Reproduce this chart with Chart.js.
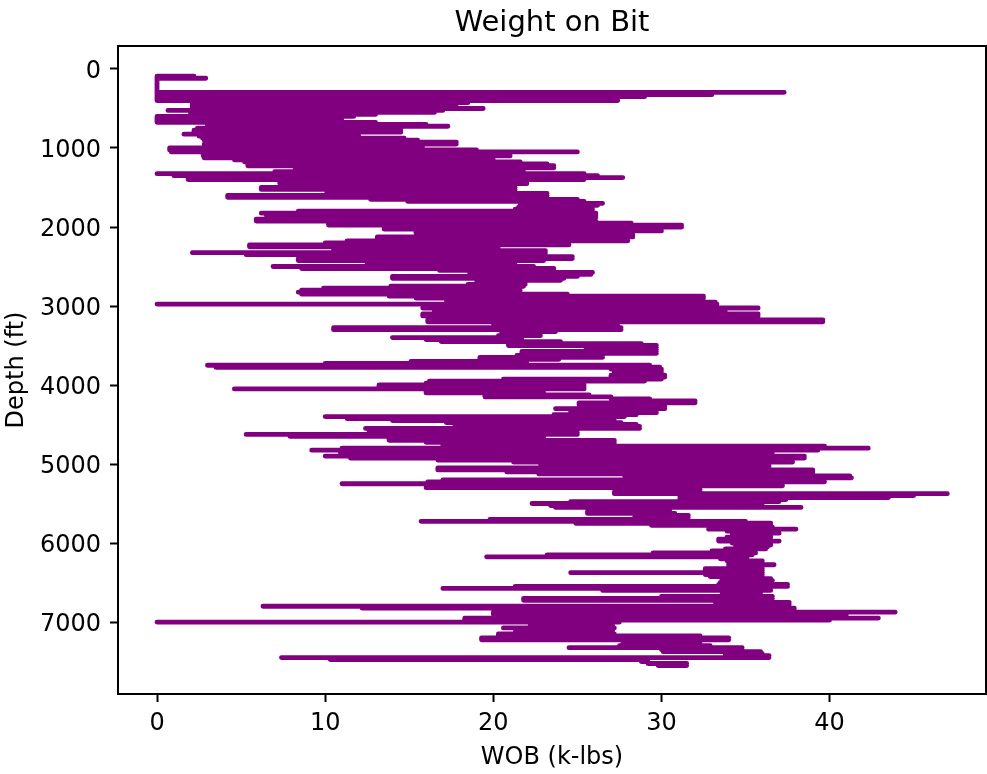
<!DOCTYPE html>
<html>
<head>
<meta charset="utf-8">
<title>Weight on Bit</title>
<script src="https://cdn.jsdelivr.net/npm/chart.js@4.4.0/dist/chart.umd.js"></script>
<style>
    html, body { margin: 0; padding: 0; background: #fff; overflow: hidden; }
    canvas { display: block; }
</style>
</head>
<body>
<canvas id="wob-chart" width="987" height="774"></canvas>
<script>
// values, one row per depth sample
const depthFt = [
    92, 117,
    295, 325, 350, 375, 400, 425, 450, 475, 500, 525,
    550, 575, 600, 625, 650, 675, 700, 725, 750, 775,
    800, 825, 850, 875, 900, 925, 950, 975, 1000, 1025,
    1050, 1075, 1100, 1125, 1150, 1175, 1200, 1225, 1250, 1275,
    1300, 1325, 1350, 1375, 1400, 1425, 1450, 1475, 1500, 1525,
    1550, 1575, 1600, 1625, 1650, 1675, 1700, 1725, 1750, 1775,
    1800, 1825, 1850, 1875, 1900, 1925, 1950, 1975, 2000, 2025,
    2050, 2075, 2100, 2125, 2150, 2175, 2200, 2225, 2250, 2275,
    2300, 2325, 2350, 2375, 2400, 2425, 2450, 2475, 2500, 2525,
    2550, 2575, 2600, 2625, 2650, 2675, 2700, 2725, 2750, 2775,
    2800, 2825, 2850, 2875, 2900, 2925, 2950, 2975, 3000, 3025,
    3050, 3075, 3100, 3125, 3150, 3175, 3200, 3225, 3250, 3275,
    3300, 3325, 3350, 3375, 3400, 3425, 3450, 3475, 3500, 3525,
    3550, 3575, 3600, 3625, 3650, 3675, 3700, 3725, 3750, 3775,
    3800, 3825, 3850, 3875, 3900, 3925, 3950, 3975, 4000, 4025,
    4050, 4075, 4100, 4125, 4150, 4175, 4200, 4225, 4250, 4275,
    4300, 4325, 4350, 4375, 4400, 4425, 4450, 4475, 4500, 4525,
    4550, 4575, 4600, 4625, 4650, 4675, 4700, 4725, 4750, 4775,
    4800, 4825, 4850, 4875, 4900, 4925, 4950, 4975, 5000, 5025,
    5050, 5075, 5100, 5125, 5150, 5175, 5200, 5225, 5250, 5275,
    5300, 5325, 5350, 5375, 5400, 5425, 5450, 5475, 5500, 5525,
    5550, 5575, 5600, 5625, 5650, 5675, 5700, 5725, 5750, 5775,
    5800, 5825, 5850, 5875, 5900, 5925, 5950, 5975, 6000, 6025,
    6050, 6075, 6100, 6125, 6150, 6175, 6200, 6225, 6250, 6275,
    6300, 6325, 6350, 6375, 6400, 6425, 6450, 6475, 6500, 6525,
    6550, 6575, 6600, 6625, 6650, 6675, 6700, 6725, 6750, 6775,
    6800, 6825, 6850, 6875, 6900, 6925, 6950, 6975, 7000, 7025,
    7050, 7075, 7100, 7125, 7150, 7175, 7200, 7225, 7250, 7275,
    7300, 7325, 7350, 7375, 7400, 7425, 7450, 7475, 7500, 7525,
    7550
];

// lowest WOB swing at each depth
const wobLow = [
    0, 0,
    0, 0, 0, 0, 0, 2.1, 2.1, 2.1, 2.1, 0.65,
    2, 2, 0, 0, 0, 0, 3, 3, 2.4, 2.2,
    2.2, 1.6, 2.5, 2.7, 2.8, 2.9, 2.8, 2.9, 0.75, 0.75,
    0.85, 2.75, 2.75, 2.8, 4.6, 5.2, 5.4, 5.4, 12.1, 8.2,
    7, 0, 1, 1.85, 1.85, 7.3, 7.3, 13.1, 6.2, 6.2,
    10.1, 10.1, 4.2, 4.2, 12.7, 14.9, 21.6, 21.6, 21.5, 21.3,
    8.4, 6.2, 6.5, 8.4, 5.9, 5.9, 10.2, 10.2, 14.3, 13.5,
    15.4, 15.4, 16.3, 13.1, 13.1, 11.3, 10, 5.5, 5.5, 10.5,
    10.5, 2.1, 5.3, 10.2, 8.4, 8.4, 12.5, 12.5, 6.9, 8.6,
    16.8, 18.6, 18.6, 14, 14, 20, 19, 18.5, 13.9, 9.9,
    8.6, 8.4, 8.6, 13.8, 15.4, 17.2, 17.5, 0, 16.5, 15.8,
    16.5, 16.5, 15.8, 15.8, 17.6, 16.1, 16.1, 20, 20.1, 10.5,
    10.5, 20.5, 20.5, 20.3, 14, 16, 16.9, 20.9, 20.9, 25.5,
    26.9, 21.7, 21.7, 21.4, 19.2, 19.2, 15.1, 10, 3, 3.5,
    27, 27.2, 27.2, 27, 27, 20.6, 16.2, 16, 13.2, 13.2,
    4.6, 16, 16, 19.5, 19.5, 27, 27.1, 25.1, 25.1, 25.2,
    23.7, 24.6, 24.6, 23.6, 10, 11.3, 14, 17.2, 22.8, 17.7,
    12.4, 12.6, 22.8, 5.3, 7.9, 13.8, 13.8, 16, 17, 17,
    11, 9.2, 10.9, 13.2, 10, 11.5, 16.7, 21.2, 22.8, 23.7,
    16.7, 16.7, 20.8, 22.7, 27.8, 27.9, 17, 16.1, 11, 16.1,
    16, 27.9, 27.2, 27.2, 31.1, 31.1, 31.1, 24.6, 22.3, 23.4,
    23.7, 27.8, 25.6, 25.6, 28.5, 28.4, 19.8, 15.7, 24.9, 29.4,
    33.9, 32.8, 33.9, 34.5, 34.2, 33.9, 33.4, 33.4, 34.2, 34.5,
    34.4, 33.8, 33, 29.5, 23.2, 19.6, 33.5, 33.9, 34, 34,
    34, 32.6, 32.6, 24.6, 32.6, 32.9, 33.6, 33.6, 33.5, 33.4,
    21.3, 17, 26.5, 33.8, 33.6, 30, 21.8, 21.8, 33.2, 33.9,
    6.3, 12.2, 23.5, 20, 20, 21.2, 18.3, 18.3, 0, 22.2,
    22.2, 20.6, 22.4, 21.3, 20.3, 20.3, 19.3, 19.3, 29.2, 27.7,
    27.5, 24.5, 30, 30.1, 33.8, 33.8, 7.4, 10.3, 28.8, 29.2,
    29.8
];

// highest WOB swing at each depth
const wobHigh = [
    2.2, 2.9,
    37.3, 33, 29, 27.4, 27.4, 18.5, 17.8, 17.8, 19.4, 17,
    16.5, 13, 11.7, 11, 10.3, 13, 16, 17.3, 13.5, 14.5,
    14.5, 11.5, 12, 14.7, 15.5, 17.8, 17.8, 15.8, 13.7, 19,
    25, 21, 21, 19.7, 20, 21.6, 23.2, 23.6, 23.6, 21.8,
    20, 25.4, 26.2, 27.7, 25.4, 22, 22, 21.3, 21.3, 21.3,
    20.7, 23.2, 23.2, 20, 25, 25.4, 26.5, 26.2, 25.4, 25.9,
    25.9, 26.1, 26.1, 26.1, 24.3, 26.1, 28.2, 31.2, 31.2, 27,
    30, 27.2, 28.3, 28.3, 27.5, 28, 24.5, 24.5, 20.3, 20.3,
    23.1, 23.1, 23, 24.7, 24.7, 23, 21.3, 21, 22.4, 23.6,
    23.6, 25.9, 25.8, 25, 24.2, 24, 21.9, 21.9, 21.8, 21.6,
    21.6, 20.2, 24.4, 32.5, 32.5, 31.8, 33.2, 33.3, 33.2, 35.75,
    33.2, 33.8, 35.75, 35.75, 33.2, 39.6, 39.6, 26.6, 27.4, 27.6,
    27.6, 23.7, 22.8, 22.8, 20, 21.7, 24, 28.8, 29.7, 29.7,
    29.7, 29.7, 29.7, 26.5, 26.5, 23.9, 22, 21.2, 29.3, 29.9,
    30, 30, 30, 30.2, 30.2, 30, 29, 25.2, 25.4, 25.4,
    25.4, 22.8, 23, 25.7, 26.9, 29.3, 32, 32, 30.2, 30.2,
    30.2, 29.7, 29.7, 28.5, 27.8, 25, 27.2, 27.6, 28.5, 28.7,
    28.7, 25, 25, 25, 22.8, 23, 27.2, 27.2, 27.2, 39.7,
    42.3, 39.3, 36.6, 36.5, 38.5, 38.5, 36.2, 37.8, 35.6, 36.4,
    36.4, 39, 39, 32.3, 41.2, 41.3, 33.3, 39.7, 37.2, 37.2,
    32, 32.3, 32.3, 47, 45, 43.5, 37.4, 37, 32.7, 36,
    38.3, 30.4, 30.5, 30.8, 31.6, 31.6, 30.4, 35, 36.5, 36.5,
    36.6, 38, 36.2, 37, 36.5, 36.5, 36.3, 37, 36.5, 36.5,
    36.3, 36.2, 35.4, 35.6, 35.4, 35.1, 34, 36, 36, 36.7,
    35.7, 36, 36, 36, 36, 36, 36.5, 36.6, 36.5, 37.5,
    37.5, 35.7, 36.5, 35.9, 35.9, 36.6, 36.6, 36.3, 37.6, 37.6,
    36.3, 37.9, 37.9, 43.9, 41, 39.7, 42.9, 40, 27.5, 26.8,
    27.1, 27.2, 27.1, 27.1, 27.2, 32.3, 34, 34, 32.3, 32,
    32.9, 34.8, 34.8, 35.9, 36, 36.4, 36.4, 28.9, 29.2, 31.5,
    31.5
];

const xTickValues = [0, 10, 20, 30, 40];
const yTickValues = [0, 1000, 2000, 3000, 4000, 5000, 6000, 7000];

// out to both swings at each depth, then step down inside the band so the tips stay blunt
const tracePoints = [];
depthFt.forEach((d, i) => {
    tracePoints.push({ x: wobLow[i], y: d }, { x: wobHigh[i], y: d });
    if (i < depthFt.length - 1) {
        const stepX = Math.max(wobLow[i], wobLow[i + 1]);
        tracePoints.push({ x: stepX, y: d }, { x: stepX, y: depthFt[i + 1] });
    }
});

const fontFamily = "'DejaVu Sans'";

// black frame around the plot
const frame = {
    id: "frame",
    afterDraw(chart) {
        const { ctx, chartArea: a } = chart;
        ctx.save();
        ctx.strokeStyle = "#000";
        ctx.lineWidth = 2;
        ctx.strokeRect(a.left, a.top, a.right - a.left, a.bottom - a.top);
        ctx.restore();
    },
};

function axisBase(tickValues, title) {
    return {
        type: "linear",
        afterBuildTicks: scale => {
            scale.ticks = tickValues.map(v => ({ value: v }));
        },
        ticks: {
            color: "#000",
            font: { family: fontFamily, size: 24 },
            autoSkip: false,
            maxRotation: 0,
            padding: 7,
            callback: v => String(v),
        },
        grid: {
            drawOnChartArea: false,
            drawTicks: true,
            tickLength: 8,
            tickWidth: 2,
            tickColor: "#000",
        },
        border: { display: false },
        title: {
            display: true,
            text: title,
            color: "#000",
            font: { family: fontFamily, size: 24 },
        },
    };
}

const xAxis = axisBase(xTickValues, "WOB (k-lbs)");
xAxis.min = -2.32;
xAxis.max = 49.3;
xAxis.afterFit = scale => { scale.height = 80; };
xAxis.title.padding = { top: 0, bottom: 2 };

const yAxis = axisBase(yTickValues, "Depth (ft)");
yAxis.reverse = true;
yAxis.min = -291;
yAxis.max = 7911;
yAxis.afterFit = scale => { scale.width = 118; };
yAxis.ticks.padding = 9;
yAxis.ticks.labelOffset = 3;
yAxis.title.padding = { top: 2, bottom: 0 };

new Chart(document.getElementById("wob-chart"), {
    type: "scatter",
    data: {
        datasets: [{
            data: tracePoints,
            showLine: true,
            borderColor: "#800080",
            backgroundColor: "#800080",
            borderWidth: 4.8,
            borderCapStyle: "round",
            borderJoinStyle: "round",
            pointRadius: 0,
            tension: 0,
        }],
    },
    options: {
        responsive: false,
        animation: false,
        layout: { padding: { top: 0, right: 1, bottom: 0, left: 0 } },
        plugins: {
            legend: { display: false },
            tooltip: { enabled: false },
            title: {
                display: true,
                fullSize: false,
                text: "Weight on Bit",
                color: "#000",
                font: { family: fontFamily, size: 29, weight: "normal" },
                padding: { top: 6, bottom: 5.2 },
            },
        },
        scales: { x: xAxis, y: yAxis },
    },
    plugins: [frame],
});
</script>
</body>
</html>
